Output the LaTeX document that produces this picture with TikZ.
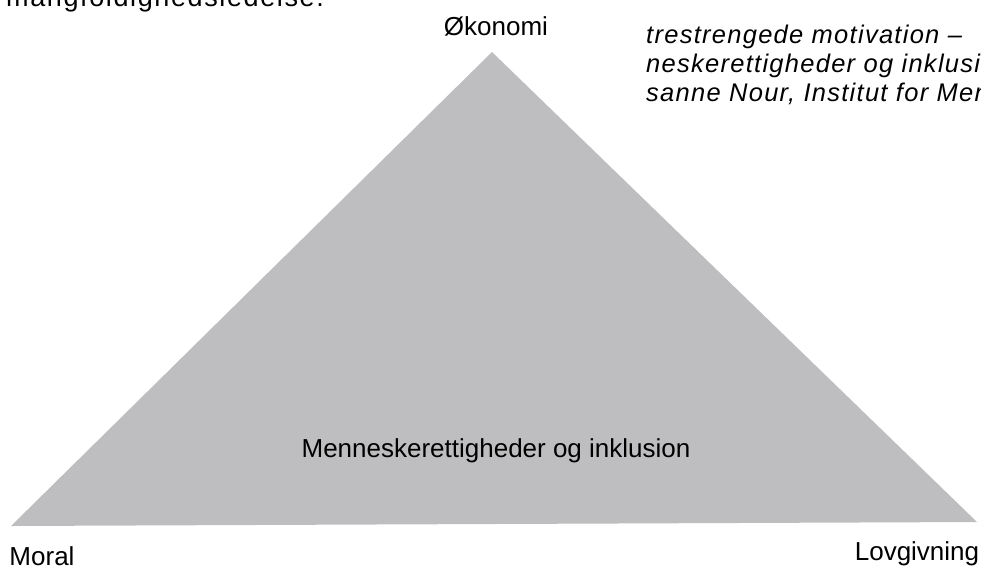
\documentclass[tikz,border=0pt]{standalone}
\usepackage{fontspec}
\setmainfont{Liberation Sans}
\newfontfamily\trackedfont[LetterSpace=5]{Liberation Sans}
\newfontfamily\trackedfontb[LetterSpace=6]{Liberation Sans}
\definecolor{trigray}{RGB}{190,190,192}
\begin{document}
\begin{tikzpicture}[x=1pt,y=-1pt,
  lbl/.style={inner sep=0pt,anchor=base,font=\fontsize{26}{30}\selectfont},
  body/.style={inner sep=0pt,anchor=base west,font=\trackedfont\fontsize{25.5}{29}\selectfont\itshape}]
\useasboundingbox (0,0) rectangle (981,566);
\clip (0,0) rectangle (981,566);
\fill[trigray] (492,52) coordinate (apex) -- (977,522) coordinate (br) -- (11,526) coordinate (bl) -- cycle;
\node[lbl] (oek) at (496,35) {Økonomi};
\node[lbl] (moral) at (42,565) {Moral};
\node[lbl] (lov) at (917,560) {Lovgivning};
\node[lbl] (mid) at (496,457) {Menneskerettigheder og inklusion};
\node[body,font=\trackedfontb\fontsize{27}{30}\selectfont] (top) at (6,6) {mangfoldighedsledelse.};
\node[body] (q1) at (646,43) {trestrengede motivation –};
\node[body] (q2) at (646,72) {neskerettigheder og inklusion};
\node[body] (q3) at (646,101) {sanne Nour, Institut for Menneskerettigheder};
\end{tikzpicture}
\end{document}
